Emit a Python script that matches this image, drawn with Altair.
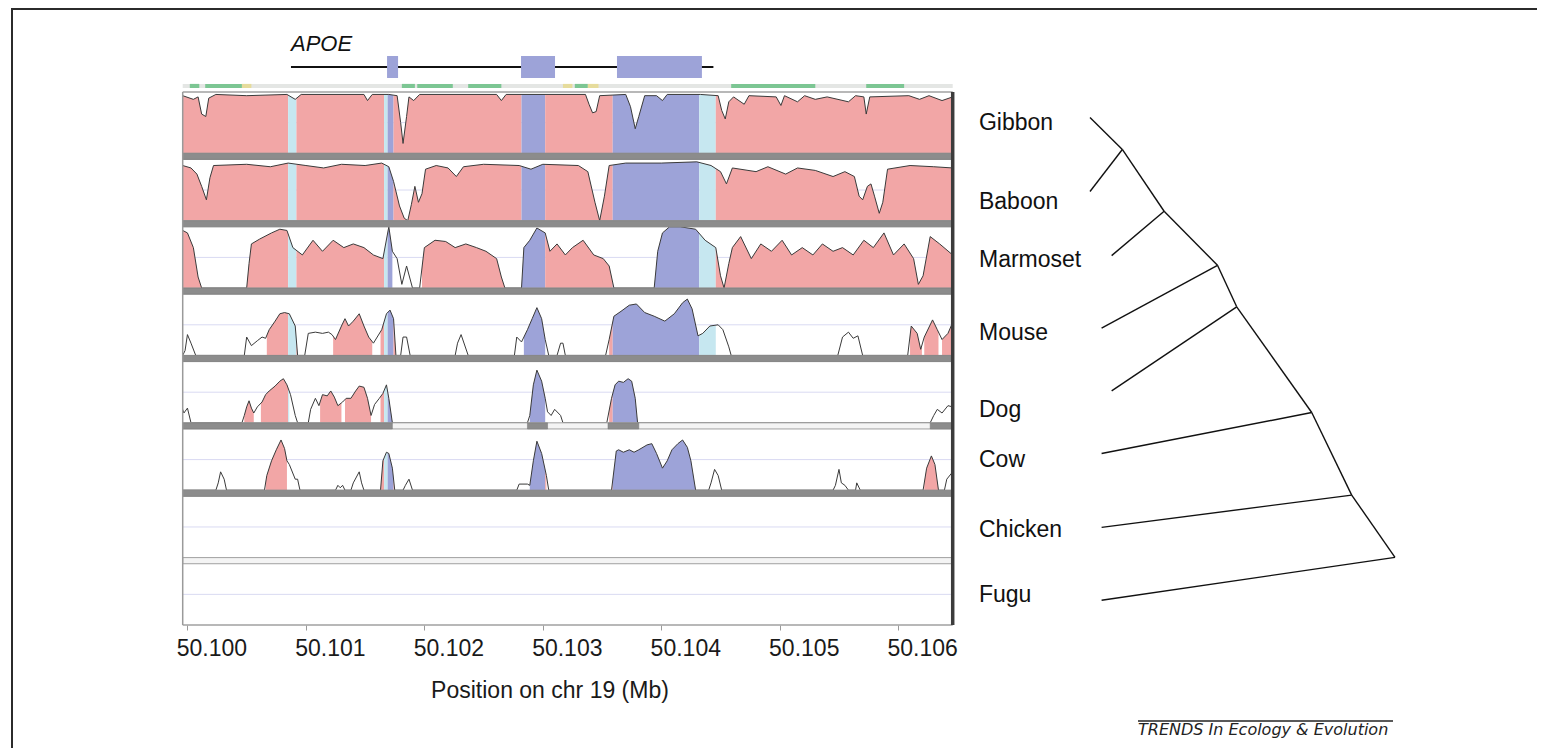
import altair as alt
import numpy as np
import pandas as pd

# ------------------------------------------------------------------ data
SPECIES = ["Gibbon", "Baboon", "Marmoset", "Mouse", "Dog", "Cow", "Chicken", "Fugu"]

REGION_START_MB = 50.1          # kb offsets below are relative to 50.100 Mb
X_DOMAIN = [50.09996, 50.10646]
X_TICKS = [50.100, 50.101, 50.102, 50.103, 50.104, 50.105, 50.106]

# percent-identity curves: (kb offset, % identity); 50 = bottom of panel
GIBBON = [(-0.04, 97), (0.05, 94), (0.09, 96), (0.12, 82), (0.155, 80), (0.18, 95), (0.24, 98),
          (0.50, 97), (0.84, 98), (0.91, 94), (0.96, 98), (1.49, 98), (1.52, 93), (1.56, 98),
          (1.70, 98), (1.77, 97), (1.80, 75), (1.82, 58), (1.85, 80), (1.87, 96), (1.91, 93),
          (1.96, 98), (2.61, 98), (2.65, 93), (2.69, 98), (3.36, 98), (3.39, 90), (3.42, 83),
          (3.45, 84), (3.48, 97), (3.70, 98), (3.74, 88), (3.78, 70), (3.81, 80), (3.86, 97),
          (3.96, 97), (4.01, 93), (4.05, 98), (4.33, 98), (4.48, 97), (4.51, 85), (4.54, 78),
          (4.57, 92), (4.61, 96), (4.70, 90), (4.74, 97), (4.97, 96), (5.01, 89), (5.04, 97),
          (5.15, 92), (5.21, 97), (5.30, 94), (5.40, 96), (5.58, 92), (5.64, 97), (5.71, 96),
          (5.73, 82), (5.76, 96), (6.09, 97), (6.18, 94), (6.26, 97), (6.37, 93), (6.46, 96)]
BABOON = [(-0.04, 95), (0.03, 93), (0.08, 88), (0.12, 78), (0.16, 67), (0.19, 85), (0.22, 95),
          (0.50, 96), (0.70, 94), (0.85, 97), (1.00, 95), (1.15, 93), (1.30, 96), (1.50, 95),
          (1.64, 97), (1.70, 94), (1.74, 82), (1.79, 62), (1.83, 52), (1.86, 50), (1.89, 63),
          (1.92, 78), (1.95, 65), (1.98, 72), (2.01, 92), (2.10, 95), (2.20, 93), (2.27, 86),
          (2.33, 94), (2.50, 96), (2.80, 95), (2.90, 92), (3.00, 96), (3.30, 95), (3.38, 90),
          (3.44, 65), (3.48, 50), (3.52, 70), (3.56, 95), (3.70, 97), (4.00, 97), (4.30, 98),
          (4.42, 95), (4.50, 90), (4.55, 80), (4.60, 93), (4.80, 90), (4.90, 94), (5.05, 88),
          (5.15, 93), (5.30, 91), (5.45, 86), (5.55, 90), (5.63, 86), (5.67, 70), (5.70, 67),
          (5.74, 78), (5.77, 80), (5.80, 70), (5.84, 56), (5.87, 65), (5.91, 92), (6.10, 95),
          (6.30, 94), (6.46, 93)]
MARMOSET = [(-0.04, 97), (0.00, 95), (0.05, 83), (0.09, 59), (0.12, 50), (0.50, 50), (0.52, 70),
            (0.54, 86), (0.61, 90), (0.71, 95), (0.78, 98), (0.84, 97), (0.89, 83), (0.97, 77),
            (1.06, 89), (1.14, 80), (1.23, 89), (1.32, 83), (1.40, 86), (1.49, 83), (1.57, 77),
            (1.65, 74), (1.70, 100), (1.73, 80), (1.77, 74), (1.81, 53), (1.85, 68), (1.90, 50),
            (1.96, 50), (2.00, 83), (2.09, 89), (2.18, 88), (2.26, 83), (2.35, 86), (2.44, 83),
            (2.52, 80), (2.61, 74), (2.65, 59), (2.68, 50), (2.82, 50), (2.84, 83), (2.89, 89),
            (2.95, 99), (3.02, 95), (3.06, 80), (3.12, 86), (3.19, 77), (3.25, 83), (3.34, 89),
            (3.43, 77), (3.51, 74), (3.56, 68), (3.60, 50), (3.94, 50), (3.97, 80), (4.01, 95),
            (4.07, 100), (4.16, 100), (4.29, 98), (4.37, 89), (4.46, 83), (4.50, 60), (4.53, 50),
            (4.57, 70), (4.60, 83), (4.67, 92), (4.76, 74), (4.84, 86), (4.93, 80), (5.02, 89),
            (5.10, 77), (5.19, 83), (5.28, 77), (5.36, 86), (5.45, 80), (5.53, 83), (5.62, 77),
            (5.71, 89), (5.79, 83), (5.88, 95), (5.96, 77), (6.05, 86), (6.13, 74), (6.17, 53),
            (6.21, 60), (6.27, 92), (6.35, 86), (6.46, 77)]
MOUSE = [(-0.04, 50), (-0.02, 54), (0.00, 67), (0.03, 60), (0.07, 50), (0.48, 50), (0.50, 65),
         (0.54, 58), (0.59, 62), (0.63, 65), (0.66, 64), (0.69, 71), (0.74, 78), (0.78, 84),
         (0.82, 85), (0.86, 84), (0.91, 74), (0.93, 50), (0.99, 50), (1.02, 68), (1.08, 69),
         (1.14, 68), (1.19, 69), (1.22, 67), (1.25, 63), (1.30, 74), (1.33, 80), (1.36, 74),
         (1.40, 78), (1.45, 84), (1.49, 74), (1.53, 65), (1.57, 60), (1.64, 71), (1.68, 84),
         (1.71, 87), (1.74, 80), (1.76, 50), (1.80, 50), (1.82, 65), (1.85, 65), (1.88, 50),
         (2.26, 50), (2.28, 60), (2.31, 67), (2.37, 50), (2.76, 50), (2.78, 65), (2.82, 61),
         (2.87, 71), (2.91, 80), (2.95, 89), (2.99, 80), (3.02, 63), (3.05, 50), (3.12, 50),
         (3.15, 60), (3.17, 60), (3.19, 50), (3.53, 50), (3.56, 63), (3.60, 82), (3.66, 86),
         (3.73, 91), (3.79, 92), (3.86, 85), (3.94, 82), (4.03, 78), (4.11, 84), (4.18, 93),
         (4.22, 96), (4.26, 88), (4.31, 66), (4.35, 68), (4.41, 74), (4.48, 75), (4.52, 71),
         (4.57, 57), (4.59, 50), (5.49, 50), (5.53, 65), (5.58, 69), (5.62, 64), (5.66, 66),
         (5.70, 50), (6.08, 50), (6.11, 74), (6.16, 68), (6.19, 55), (6.22, 65), (6.29, 79),
         (6.33, 71), (6.37, 63), (6.42, 68), (6.46, 77)]
DOG = [(-0.04, 61), (-0.03, 58), (0.00, 62), (0.03, 50), (0.46, 50), (0.48, 56), (0.50, 63),
       (0.52, 68), (0.54, 62), (0.56, 58), (0.59, 63), (0.63, 67), (0.66, 73), (0.69, 76),
       (0.74, 80), (0.78, 84), (0.81, 86), (0.84, 81), (0.87, 73), (0.91, 56), (0.93, 50),
       (1.02, 50), (1.04, 61), (1.08, 70), (1.11, 64), (1.14, 73), (1.18, 72), (1.21, 76),
       (1.24, 71), (1.27, 64), (1.31, 67), (1.34, 70), (1.38, 70), (1.42, 76), (1.45, 80),
       (1.49, 79), (1.52, 70), (1.55, 56), (1.58, 65), (1.62, 70), (1.65, 74), (1.68, 81),
       (1.70, 70), (1.73, 50), (2.87, 50), (2.89, 56), (2.92, 81), (2.95, 93), (2.99, 84),
       (3.02, 70), (3.04, 59), (3.07, 56), (3.10, 61), (3.15, 56), (3.17, 50), (3.54, 50),
       (3.58, 70), (3.61, 81), (3.64, 84), (3.68, 83), (3.72, 86), (3.75, 84), (3.78, 70),
       (3.80, 50), (6.27, 50), (6.30, 56), (6.33, 61), (6.37, 58), (6.42, 64), (6.46, 63)]
COW = [(-0.04, 50), (0.24, 50), (0.26, 56), (0.28, 65), (0.31, 59), (0.33, 50), (0.65, 50),
       (0.67, 62), (0.71, 74), (0.75, 83), (0.79, 91), (0.82, 84), (0.84, 74), (0.86, 71),
       (0.91, 59), (0.93, 59), (0.95, 50), (1.25, 50), (1.27, 54), (1.29, 52), (1.31, 54),
       (1.33, 50), (1.38, 50), (1.40, 56), (1.45, 65), (1.47, 56), (1.49, 50), (1.63, 50),
       (1.65, 74), (1.68, 81), (1.70, 80), (1.73, 68), (1.75, 50), (1.82, 50), (1.84, 54),
       (1.87, 59), (1.90, 50), (2.78, 50), (2.80, 55), (2.87, 55), (2.89, 54), (2.92, 74),
       (2.95, 90), (2.99, 80), (3.03, 62), (3.05, 50), (3.58, 50), (3.62, 82), (3.64, 83),
       (3.68, 81), (3.73, 83), (3.77, 81), (3.81, 83), (3.88, 87), (3.92, 88), (3.96, 80),
       (4.01, 68), (4.05, 74), (4.09, 83), (4.14, 88), (4.18, 91), (4.22, 85), (4.25, 74),
       (4.29, 50), (4.40, 50), (4.42, 56), (4.45, 67), (4.48, 62), (4.51, 50), (5.45, 50),
       (5.47, 54), (5.50, 67), (5.52, 56), (5.55, 54), (5.58, 50), (5.64, 50), (5.65, 56),
       (5.68, 50), (6.21, 50), (6.24, 68), (6.28, 78), (6.31, 71), (6.34, 50), (6.39, 50),
       (6.41, 59), (6.46, 65)]
CURVES = {"Gibbon": GIBBON, "Baboon": BABOON, "Marmoset": MARMOSET,
          "Mouse": MOUSE, "Dog": DOG, "Cow": COW}

# conserved (coloured) stretches per species, kb
CONSERVED = {
    "Gibbon": [(-0.04, 6.46)],
    "Baboon": [(-0.04, 6.46)],
    "Marmoset": [(-0.04, 1.73), (1.98, 6.46)],
    "Mouse": [(0.67, 0.93), (1.23, 1.56), (1.63, 1.76), (2.84, 3.02), (3.56, 4.46),
              (6.10, 6.20), (6.22, 6.34), (6.37, 6.46)],
    "Dog": [(0.48, 0.56), (0.62, 0.86), (1.12, 1.30), (1.33, 1.55), (1.63, 1.73),
            (2.89, 3.02), (3.56, 3.80)],
    "Cow": [(0.66, 0.84), (1.63, 1.75), (2.89, 3.03), (3.58, 4.29), (6.22, 6.34)],
}
# aligned stretches shown as dark bar under each panel (kb)
ALIGNED = {
    "Gibbon": [(-0.04, 6.46)], "Baboon": [(-0.04, 6.46)], "Marmoset": [(-0.04, 6.46)],
    "Mouse": [(-0.04, 6.46)], "Dog": [(-0.04, 1.73), (2.87, 3.04), (3.55, 3.81), (6.27, 6.46)],
    "Cow": [(-0.04, 6.46)], "Chicken": [],
}

# annotation (kb): UTR / coding exon
ANNOT_START = [0.85, 1.66, 1.69, 2.82, 3.59, 4.32]
ANNOT_END = [0.92, 1.69, 1.74, 3.02, 4.32, 4.46]
ANNOT_KIND = ["UTR", "UTR", "exon", "exon", "exon", "UTR"]

# gene model (kb)
GENE_NAME = "APOE"
GENE_START, GENE_END = 0.874, 4.44
EXON_START = [1.685, 2.816, 3.626]
EXON_END = [1.778, 3.103, 4.343]

# conservation summary strip (kb)
STRIP_START = [0.02, 0.15, 0.46, 1.81, 1.94, 2.37, 3.17, 3.27, 3.38, 4.59, 5.73]
STRIP_END = [0.10, 0.46, 0.54, 1.92, 2.24, 2.65, 3.25, 3.38, 3.47, 5.30, 6.05]
STRIP_KIND = ["g", "g", "y", "g", "g", "g", "y", "g", "y", "g", "g"]

# tree: node, x (relative depth), y (relative row), parent
TREE_NODE = ["Gibbon", "Baboon", "Marmoset", "Mouse", "Dog", "Cow", "Chicken", "Fugu",
             "n1", "n2", "n3", "n4", "n5", "n6", "root"]
TREE_X = [0.0, 0.0, 0.071, 0.038, 0.071, 0.038, 0.038, 0.038,
          0.106, 0.243, 0.418, 0.481, 0.727, 0.858, 1.0]
TREE_Y = [0.0, 0.153, 0.286, 0.436, 0.566, 0.696, 0.849, 1.0,
          0.066, 0.194, 0.306, 0.392, 0.611, 0.782, 0.911]
TREE_PARENT = ["n1", "n1", "n2", "n3", "n4", "n5", "n6", "root",
               "n2", "n3", "n4", "n5", "n6", "root", ""]
LABEL_Y = [0.012, 0.174, 0.295, 0.446, 0.606, 0.709, 0.854, 0.989]
LABEL_X = -0.364

# ------------------------------------------------------------------ styling
FONT = "Liberation Sans"
COLORS = {"CNS": "#F2A6A6", "exon": "#9DA3D8", "UTR": "#C6E7F0"}
STRIP_COLORS = {"g": "#7CC693", "y": "#E6DC9C"}
PITCH = 55          # panel pitch in identity units (50 + separator)
SEP = 5


def mb(k):
    return REGION_START_MB + k / 1000.0


base = {sp: (7 - i) * PITCH for i, sp in enumerate(SPECIES)}

# filled pieces
rows = []
pid = 0
for sp, curve in CURVES.items():
    kb = [p[0] for p in curve]
    pc = [p[1] for p in curve]
    for a, b in CONSERVED[sp]:
        cuts = sorted(set([a, b] + [c for c in ANNOT_START + ANNOT_END if a < c < b]))
        for lo, hi in zip(cuts[:-1], cuts[1:]):
            mid = (lo + hi) / 2
            kind = "CNS"
            for s, e, k in zip(ANNOT_START, ANNOT_END, ANNOT_KIND):
                if s <= mid < e:
                    kind = k
            xs = [lo] + [k for k in kb if lo < k < hi] + [hi]
            ys = np.interp(xs, kb, pc)
            for x, y in zip(xs, ys):
                rows.append(dict(piece=pid, mb=mb(x), y=base[sp] + y - 50,
                                 y0=base[sp], color=COLORS[kind]))
            pid += 1
fill_df = pd.DataFrame(rows)

curve_df = pd.DataFrame([dict(species=sp, mb=mb(k), y=base[sp] + v - 50)
                         for sp, curve in CURVES.items() for k, v in curve])

mid_df = pd.DataFrame([dict(x1=X_DOMAIN[0], x2=X_DOMAIN[1], y=base[sp] + 25) for sp in SPECIES])

sep_df = pd.DataFrame([dict(x1=X_DOMAIN[0], x2=X_DOMAIN[1], y1=base[sp] - SEP, y2=base[sp])
                       for sp in SPECIES[:-1]])
dark_df = pd.DataFrame([dict(x1=mb(a), x2=mb(b), y1=base[sp] - SEP, y2=base[sp])
                        for sp in SPECIES[:-1] for a, b in ALIGNED[sp]])
top_y = base["Gibbon"] + 50
hline_df = pd.DataFrame([dict(x1=X_DOMAIN[0], x2=X_DOMAIN[1], y=top_y, w="t"),
                         dict(x1=X_DOMAIN[0], x2=X_DOMAIN[1], y=0, w="b")])
side_df = pd.DataFrame([dict(x=X_DOMAIN[0], y1=0, y2=top_y, w="l"),
                        dict(x=X_DOMAIN[1], y1=0, y2=top_y, w="r")])

# ------------------------------------------------------------------ scales / axis
XS = alt.Scale(domain=X_DOMAIN, range=[174.7, 944.7], nice=False, zero=False)
YS = alt.Scale(domain=[0, top_y], range=[617, 84], nice=False, zero=False)
XAX = alt.Axis(values=X_TICKS, format=".3f", grid=False, domain=False, labelFlush=False,
               labelOverlap=False, labelOffset=24, labelPadding=7, labelFont=FONT,
               labelFontSize=23, labelColor="#1a1a1a", tickSize=5, tickColor="#9a9a9a",
               title="Position on chr 19 (Mb)", titleFont=FONT,
               titleFontSize=23, titleFontWeight="normal", titleColor="#1a1a1a",
               titleX=541.5, titleY=54, titleBaseline="top", titleAlign="center")


def X(f):
    return alt.X(f, type="quantitative", scale=XS, axis=XAX)


def Y(f):
    return alt.Y(f, type="quantitative", scale=YS, axis=None, stack=None)


mid_l = alt.Chart(mid_df).mark_rule(color="#d9daf2", strokeWidth=1).encode(
    x=X("x1"), x2="x2", y=Y("y"))
fill_l = alt.Chart(fill_df).mark_area(strokeWidth=0, interpolate="linear").encode(
    x=X("mb"), y=Y("y"), y2="y0", color=alt.Color("color:N", scale=None), detail="piece:N")
curve_l = alt.Chart(curve_df).mark_line(color="#3a3a3a", strokeWidth=1).encode(
    x=X("mb"), y=Y("y"), detail="species:N")
sep_l = alt.Chart(sep_df).mark_rect(fill="#f4f4f4", stroke="#a0a0a0", strokeWidth=1).encode(
    x=X("x1"), x2="x2", y=Y("y1"), y2="y2")
dark_l = alt.Chart(dark_df).mark_rect(fill="#8c8c8c", stroke="#777777", strokeWidth=0.5).encode(
    x=X("x1"), x2="x2", y=Y("y1"), y2="y2")
hline_l = alt.Chart(hline_df).mark_rule(color="#a0a0a0", strokeWidth=1.5).encode(
    x=X("x1"), x2="x2", y=Y("y"))
side_l = alt.Chart(side_df).mark_rule().encode(
    x=X("x"), y=Y("y1"), y2="y2",
    color=alt.Color("w:N", scale=alt.Scale(domain=["l", "r"], range=["#9a9a9a", "#3c3c3c"]), legend=None),
    strokeWidth=alt.StrokeWidth("w:N", scale=alt.Scale(domain=["l", "r"], range=[1.5, 3.5]), legend=None))

tracks = alt.layer(mid_l, fill_l, curve_l, sep_l, dark_l, hline_l, side_l).resolve_scale(
    color="independent", strokeWidth="independent")

# ------------------------------------------------------------------ header (gene model)
HX = alt.Scale(domain=X_DOMAIN, range=[174.7, 944.7], nice=False, zero=False)
HS = alt.Scale(domain=[0, 1], range=[81, 47], nice=False, zero=False)

strip_bg = pd.DataFrame([dict(x1=X_DOMAIN[0], x2=X_DOMAIN[1], y1=0.03, y2=0.15)])
strip_df = pd.DataFrame([dict(x1=mb(a), x2=mb(b), y1=0.03, y2=0.15, c=STRIP_COLORS[k])
                         for a, b, k in zip(STRIP_START, STRIP_END, STRIP_KIND)])
intron_df = pd.DataFrame([dict(x1=mb(GENE_START), x2=mb(GENE_END), y=0.647)])
exon_df = pd.DataFrame([dict(x1=mb(a), x2=mb(b), y1=0.324, y2=0.97) for a, b in zip(EXON_START, EXON_END)])
name_df = pd.DataFrame([dict(x=mb(GENE_START), y=1.32, t=GENE_NAME)])


def HXe(f):
    return alt.X(f, type="quantitative", scale=HX, axis=None)


def HYe(f):
    return alt.Y(f, type="quantitative", scale=HS, axis=None)


header = alt.layer(
    alt.Chart(strip_bg).mark_rect(fill="#e4e6e4").encode(x=HXe("x1"), x2="x2", y=HYe("y1"), y2="y2"),
    alt.Chart(strip_df).mark_rect().encode(x=HXe("x1"), x2="x2", y=HYe("y1"), y2="y2",
                                           color=alt.Color("c:N", scale=None)),
    alt.Chart(intron_df).mark_rule(color="#111111", strokeWidth=2).encode(x=HXe("x1"), x2="x2", y=HYe("y")),
    alt.Chart(exon_df).mark_rect(fill=COLORS["exon"]).encode(x=HXe("x1"), x2="x2", y=HYe("y1"), y2="y2"),
    alt.Chart(name_df).mark_text(align="left", baseline="middle", font=FONT, fontSize=22,
                                 fontStyle="italic", color="#111111").encode(
        x=HXe("x"), y=HYe("y"), text="t:N"),
)

# ------------------------------------------------------------------ tree
TXS = alt.Scale(domain=[0, 1], range=[1082, 1387], nice=False, zero=False)
TYS = alt.Scale(domain=[0, 1], range=[109.6, 592.3], nice=False, zero=False)
pos = {n: (x, y) for n, x, y in zip(TREE_NODE, TREE_X, TREE_Y)}
edge_df = pd.DataFrame([dict(x=pos[n][0], y=pos[n][1], x2=pos[p][0], y2=pos[p][1])
                        for n, p in zip(TREE_NODE, TREE_PARENT) if p])
lab_df = pd.DataFrame(dict(x=[LABEL_X] * len(SPECIES), y=LABEL_Y, t=SPECIES))

tree = alt.layer(
    alt.Chart(edge_df).mark_rule(color="#111111", strokeWidth=1.4).encode(
        x=alt.X("x:Q", scale=TXS, axis=None), y=alt.Y("y:Q", scale=TYS, axis=None),
        x2="x2", y2="y2"),
    alt.Chart(lab_df).mark_text(align="left", baseline="middle", font=FONT, fontSize=23,
                                color="#111111").encode(
        x=alt.X("x:Q", scale=TXS, axis=None), y=alt.Y("y:Q", scale=TYS, axis=None), text="t:N"),
)

# ------------------------------------------------------------------ frame / credit
one = pd.DataFrame({"d": [0]})
deco = alt.layer(
    # white cover for the stray view edge outside the plot area
    alt.Chart(one).mark_rule(color="white", strokeWidth=3).encode(
        x=alt.value(8), x2=alt.value(173), y=alt.value(617)),
    alt.Chart(one).mark_rule(color="white", strokeWidth=3).encode(
        x=alt.value(947), x2=alt.value(1529), y=alt.value(617)),
    alt.Chart(one).mark_rule(color="#2b2b2b", strokeWidth=2).encode(
        x=alt.value(3), x2=alt.value(1529), y=alt.value(1)),
    alt.Chart(one).mark_rule(color="#2b2b2b", strokeWidth=2).encode(
        x=alt.value(4), y=alt.value(0), y2=alt.value(740)),
    alt.Chart(one).mark_rule(color="#222222", strokeWidth=1.5).encode(
        x=alt.value(1130), x2=alt.value(1385), y=alt.value(713)),
    alt.Chart(one).mark_text(align="left", baseline="alphabetic", font="DejaVu Sans",
                             fontStyle="italic", fontSize=16, color="#222222",
                             text="TRENDS In Ecology & Evolution").encode(
        x=alt.value(1130), y=alt.value(727)),
)

chart = alt.layer(tracks, header, tree, deco).resolve_scale(
    x="independent", y="independent").properties(
    width=1529, height=617,
    padding={"left": 0, "top": 0, "right": 0, "bottom": 123},
    autosize=alt.AutoSizeParams(type="none"),
    view=alt.ViewBackground(stroke=None, fill="white"),
).configure_view(stroke="transparent", strokeWidth=0).configure_axis(
    domain=False, grid=False).configure(background="white")

chart.save("out.html", embed_options={"renderer": "svg", "actions": False})
